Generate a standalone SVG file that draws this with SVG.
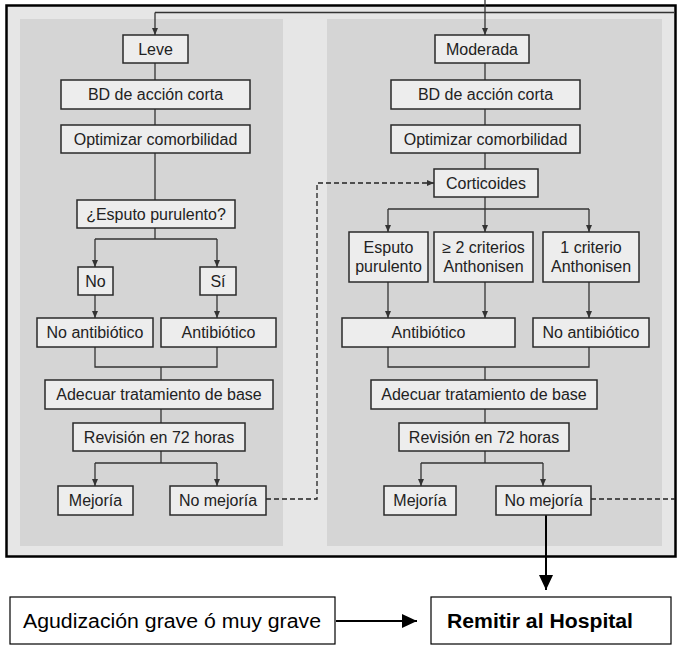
<svg xmlns="http://www.w3.org/2000/svg" width="678" height="646" viewBox="0 0 678 646">
  <defs>
    <marker id="arr" markerUnits="userSpaceOnUse" markerWidth="8" markerHeight="8" refX="7" refY="4" orient="auto">
      <path d="M0,1 L7,4 L0,7 Z" fill="#333"/>
    </marker>
    <marker id="big" markerUnits="userSpaceOnUse" markerWidth="16" markerHeight="16" refX="15" refY="8" orient="auto">
      <path d="M0,1 L15,8 L0,15 Z" fill="#000"/>
    </marker>
  </defs>
  <style>
    .box { fill: #ededed; stroke: #2a2a2a; stroke-width: 1.5; }
    .t { font-family: "Liberation Sans", Arial, Helvetica, sans-serif; font-size: 16px; fill: #222; text-anchor: middle; }
    .c { fill: none; stroke: #333; stroke-width: 1.3; }
    .d { fill: none; stroke: #222; stroke-width: 1.3; stroke-dasharray: 5 3; }
    .bbox { fill: #fff; stroke: #000; stroke-width: 1.2; }
    .bt { font-family: "Liberation Sans", Arial, Helvetica, sans-serif; font-size: 20px; fill: #000; }
  </style>

  <rect width="678" height="646" fill="#fff"/>

  <!-- framed figure with two shaded columns -->
  <g id="frame">
    <rect x="6.5" y="5.5" width="669" height="551" fill="#e6e6e6" stroke="#000" stroke-width="2.5"/>
    <rect x="20" y="19" width="263" height="527" fill="#d5d5d5"/>
    <rect x="327" y="19" width="335" height="527" fill="#d5d5d5"/>
  </g>

  <!-- connectors -->
  <g id="connectors">
    <path class="c" d="M155,12.5 H674"/>
    <path class="c" d="M155,12.5 V35" marker-end="url(#arr)"/>
    <path class="c" d="M485,0 V35" marker-end="url(#arr)"/>

    <!-- left column -->
    <path class="c" d="M155,63 V80"/>
    <path class="c" d="M155,109 V125"/>
    <path class="c" d="M155,153 V200"/>
    <path class="c" d="M155,228 V239 M95,239 H217"/>
    <path class="c" d="M95,239 V267" marker-end="url(#arr)"/>
    <path class="c" d="M217,239 V267" marker-end="url(#arr)"/>
    <path class="c" d="M95,295 V318" marker-end="url(#arr)"/>
    <path class="c" d="M217,295 V318" marker-end="url(#arr)"/>
    <path class="c" d="M95,347 V367 H217 V347 M161,367 V380"/>
    <path class="c" d="M161,409 V423"/>
    <path class="c" d="M161,451 V463 M95,463 H217"/>
    <path class="c" d="M95,463 V486" marker-end="url(#arr)"/>
    <path class="c" d="M217,463 V486" marker-end="url(#arr)"/>
    <path class="d" d="M266,499 H317 V183 H434" marker-end="url(#arr)"/>

    <!-- right column -->
    <path class="c" d="M485,63 V80"/>
    <path class="c" d="M485,109 V125"/>
    <path class="c" d="M485,153 V169"/>
    <path class="c" d="M485,197 V209 M388,209 H589"/>
    <path class="c" d="M388,209 V232" marker-end="url(#arr)"/>
    <path class="c" d="M485,209 V232" marker-end="url(#arr)"/>
    <path class="c" d="M589,209 V232" marker-end="url(#arr)"/>
    <path class="c" d="M388,282 V318" marker-end="url(#arr)"/>
    <path class="c" d="M485,282 V318" marker-end="url(#arr)"/>
    <path class="c" d="M589,282 V318" marker-end="url(#arr)"/>
    <path class="c" d="M388,347 V367 H589 V347 M485,367 V380"/>
    <path class="c" d="M485,409 V423"/>
    <path class="c" d="M485,451 V463 M421,463 H543"/>
    <path class="c" d="M421,463 V486" marker-end="url(#arr)"/>
    <path class="c" d="M543,463 V486" marker-end="url(#arr)"/>
    <path class="d" d="M591,499 H675"/>

    <!-- to hospital -->
    <path d="M546,515 V590" fill="none" stroke="#000" stroke-width="2" marker-end="url(#big)"/>
    <path d="M336,621 H417" fill="none" stroke="#000" stroke-width="2" marker-end="url(#big)"/>
  </g>

  <!-- left column nodes -->
  <g id="leve"><rect class="box" x="123" y="35" width="65" height="28"/><text class="t" x="155.5" y="55">Leve</text></g>
  <g id="bd-leve"><rect class="box" x="61" y="80" width="189" height="29"/><text class="t" x="155.5" y="100">BD de acción corta</text></g>
  <g id="opt-leve"><rect class="box" x="61" y="125" width="189" height="28"/><text class="t" x="155.5" y="145">Optimizar comorbilidad</text></g>
  <g id="esputo-q"><rect class="box" x="77" y="200" width="158" height="28"/><text class="t" x="156" y="220">¿Esputo purulento?</text></g>
  <g id="no"><rect class="box" x="78" y="267" width="35" height="28"/><text class="t" x="95.5" y="287">No</text></g>
  <g id="si"><rect class="box" x="200" y="267" width="36" height="28"/><text class="t" x="218" y="287">Sí</text></g>
  <g id="noab-leve"><rect class="box" x="37" y="318" width="116" height="29"/><text class="t" x="95" y="338">No antibiótico</text></g>
  <g id="ab-leve"><rect class="box" x="161" y="318" width="115" height="29"/><text class="t" x="218.5" y="338">Antibiótico</text></g>
  <g id="adecuar-leve"><rect class="box" x="45" y="380" width="228" height="29"/><text class="t" x="159" y="400">Adecuar tratamiento de base</text></g>
  <g id="rev-leve"><rect class="box" x="73" y="423" width="172" height="28"/><text class="t" x="159" y="443">Revisión en 72 horas</text></g>
  <g id="mej-leve"><rect class="box" x="58" y="486" width="75" height="29"/><text class="t" x="95.5" y="506">Mejoría</text></g>
  <g id="nomej-leve"><rect class="box" x="170" y="486" width="96" height="29"/><text class="t" x="218" y="506">No mejoría</text></g>

  <!-- right column nodes -->
  <g id="moderada"><rect class="box" x="435" y="35" width="94" height="28"/><text class="t" x="482" y="55">Moderada</text></g>
  <g id="bd-mod"><rect class="box" x="391" y="80" width="189" height="29"/><text class="t" x="485.5" y="100">BD de acción corta</text></g>
  <g id="opt-mod"><rect class="box" x="391" y="125" width="189" height="28"/><text class="t" x="485.5" y="145">Optimizar comorbilidad</text></g>
  <g id="corticoides"><rect class="box" x="434" y="169" width="104" height="28"/><text class="t" x="486" y="189">Corticoides</text></g>
  <g id="esputo"><rect class="box" x="349" y="232" width="79" height="50"/><text class="t" x="388.5" y="253">Esputo</text><text class="t" x="388.5" y="272">purulento</text></g>
  <g id="dos-criterios"><rect class="box" x="434" y="232" width="99" height="50"/><text class="t" x="483.5" y="253">≥ 2 criterios</text><text class="t" x="483.5" y="272">Anthonisen</text></g>
  <g id="un-criterio"><rect class="box" x="543" y="232" width="96" height="50"/><text class="t" x="591" y="253">1 criterio</text><text class="t" x="591" y="272">Anthonisen</text></g>
  <g id="ab-mod"><rect class="box" x="342" y="318" width="173" height="29"/><text class="t" x="428.5" y="338">Antibiótico</text></g>
  <g id="noab-mod"><rect class="box" x="533" y="318" width="116" height="29"/><text class="t" x="591" y="338">No antibiótico</text></g>
  <g id="adecuar-mod"><rect class="box" x="371" y="380" width="226" height="29"/><text class="t" x="484" y="400">Adecuar tratamiento de base</text></g>
  <g id="rev-mod"><rect class="box" x="399" y="423" width="170" height="28"/><text class="t" x="484" y="443">Revisión en 72 horas</text></g>
  <g id="mej-mod"><rect class="box" x="384" y="486" width="72" height="29"/><text class="t" x="420" y="506">Mejoría</text></g>
  <g id="nomej-mod"><rect class="box" x="496" y="486" width="95" height="29"/><text class="t" x="543.5" y="506">No mejoría</text></g>

  <!-- bottom row -->
  <g id="grave"><rect class="bbox" x="10" y="597" width="325" height="47"/><text class="bt" x="23" y="628" textLength="298" lengthAdjust="spacingAndGlyphs">Agudización grave ó muy grave</text></g>
  <g id="hospital"><rect class="bbox" x="431" y="597" width="240" height="47"/><text class="bt" x="447" y="628" font-weight="bold" textLength="186" lengthAdjust="spacingAndGlyphs">Remitir al Hospital</text></g>
</svg>
